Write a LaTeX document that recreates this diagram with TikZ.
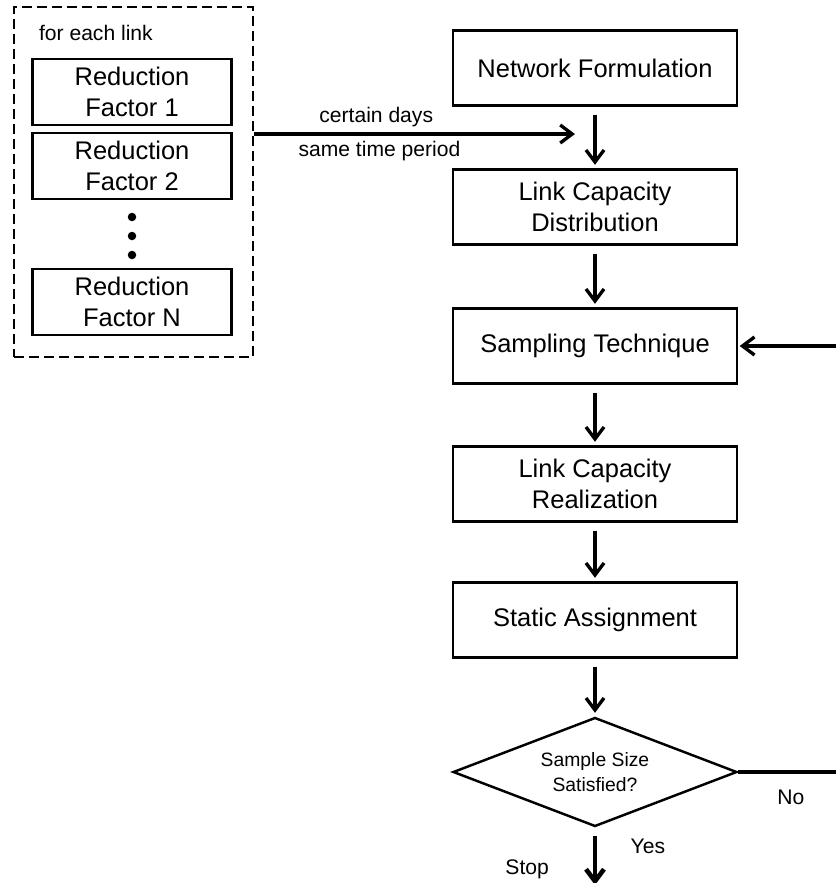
\documentclass[tikz,border=0pt]{standalone}
\usepackage{fontspec}
\setmainfont{Liberation Sans}
\usetikzlibrary{positioning,shapes.geometric,arrows.meta}

\begin{document}
\begin{tikzpicture}[auto, node distance=2.78cm, >={Straight Barb[length=2.4mm,width=3.6mm]}, line width=1.4pt]
    % Stili
    \tikzstyle{block} = [draw, rectangle, minimum height=1.5cm, minimum width=5.68cm, align=center, font=\fontsize{14.5}{17.4}\selectfont]
    \tikzstyle{factor} = [draw, rectangle, minimum height=1.32cm, minimum width=3.98cm, align=center, font=\fontsize{14.5}{17.4}\selectfont]
    \tikzstyle{decision} = [draw, diamond, aspect=2.6, minimum width=5.68cm, minimum height=2.18cm, inner sep=0pt, align=center, font=\fontsize{11}{14}\selectfont]
    \tikzstyle{dot} = [fill=black, circle, inner sep=0pt, minimum size=0.17cm]
    \tikzstyle{flow} = [->, line width=1.9pt, shorten <=0.16cm, shorten >=0.07cm]
    \tikzstyle{smalltext} = [font=\fontsize{12}{14}\selectfont]

    \useasboundingbox (0,0) rectangle (16.7,-17.66);

    % --- Fattori di riduzione (per ogni link) ---
    \node [draw, line width=1.6pt, dash pattern=on 0.2cm off 0.1cm, minimum width=4.78cm, minimum height=7cm] (linkbox) at (2.67,-3.64) {};
    \node [smalltext, anchor=west] (eachlink) at (0.64,-0.66) {for each link};

    \node [factor] (factor1) at (2.64,-1.84) {Reduction\\Factor 1};
    \node [factor, below of=factor1, node distance=1.48cm] (factor2) {Reduction\\Factor 2};

    % puntini
    \node [dot, below of=factor2, node distance=1.02cm] (dot1) {};
    \node [dot, below of=dot1, node distance=0.38cm] (dot2) {};
    \node [dot, below of=dot2, node distance=0.38cm] (dot3) {};

    \node [factor, below of=factor2, node distance=2.72cm] (factorN) {Reduction\\Factor N};

    % --- Catena principale ---
    \node [block] (network) at (11.9,-1.36) {Network Formulation};
    \node [block, below of=network] (capdist) {Link Capacity\\Distribution};
    \node [block, below of=capdist] (sampling) {Sampling Technique};
    \node [block, below of=sampling, node distance=2.76cm] (realize) {Link Capacity\\Realization};
    \node [block, below of=realize, node distance=2.72cm] (assign) {Static Assignment};
    \node [decision, below of=assign, node distance=3.04cm] (check) {Sample Size\\Satisfied?};

    % punti liberi
    \coordinate (merge) at (11.5,-2.68);
    \coordinate [below of=check, node distance=2.26cm] (halt);
    \coordinate [right of=check, node distance=4.85cm] (noright);
    \coordinate [right of=sampling, node distance=4.85cm] (loopback);

    % --- Collegamenti ---
    \draw [->, line width=1.9pt] (linkbox.east |- merge) -- node[smalltext, pos=0.38, above] {certain days} node[smalltext, pos=0.39, below] {same time period} (merge);

    \draw [flow] (network) -- (capdist);
    \draw [flow] (capdist) -- (sampling);
    \draw [flow] (sampling) -- (realize);
    \draw [flow] (realize) -- (assign);
    \draw [flow] (assign) -- (check);

    % No: si torna al campionamento
    \draw [line width=1.9pt] (check) -- node[smalltext, pos=0.53, below, yshift=-0.2cm] {No} (noright);
    \draw [->, line width=1.9pt, shorten >=0.03cm] (loopback) -- (sampling);

    % Yes: fine
    \draw [->, line width=2.6pt, shorten <=0.16cm] (check) -- node[smalltext, pos=0.32, right, xshift=0.55cm] {Yes} node[smalltext, pos=0.72, left, xshift=-0.76cm] {Stop} (halt);

\end{tikzpicture}
\end{document}
